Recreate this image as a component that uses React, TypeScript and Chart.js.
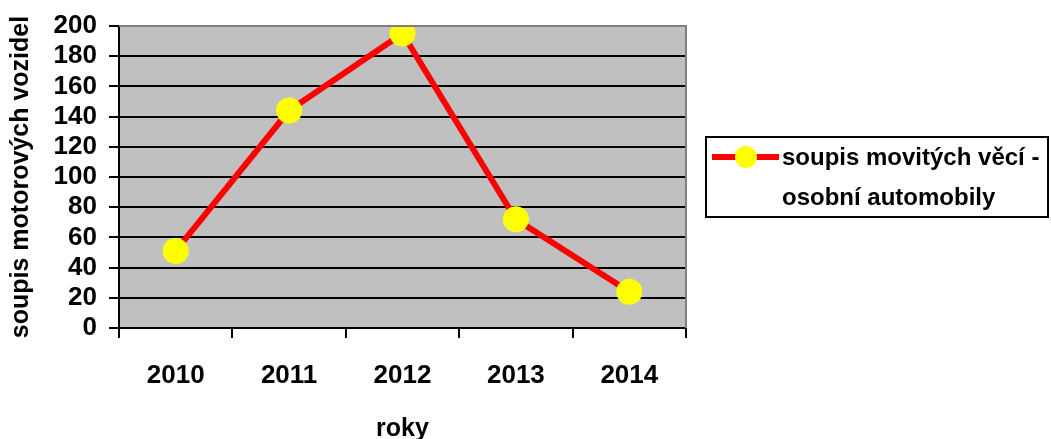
import React, { useEffect, useRef } from "react";
import { Chart, registerables } from "chart.js";

Chart.register(...registerables);

const categories: string[] = ["2010", "2011", "2012", "2013", "2014"];
const seriesValues: number[] = [51, 144, 195, 72, 24];
const seriesLabel: string[] = ["soupis movitých věcí -", "osobní automobily"];
const yTitle = "soupis motorových vozidel";
const xTitle = "roky";
const yMin = 0;
const yMax = 200;
const yStep = 20;

const FONT = "'Liberation Sans', Arial, sans-serif";

const plotDecor = {
  id: "plotDecor",
  beforeDraw(chart: any) {
    const { ctx, chartArea } = chart;
    ctx.save();
    ctx.fillStyle = "#ffffff";
    ctx.fillRect(0, 0, chart.width, chart.height);
    ctx.fillStyle = "#C0C0C0";
    ctx.fillRect(chartArea.left, chartArea.top, chartArea.right - chartArea.left, chartArea.bottom - chartArea.top);
    ctx.restore();
  },
  afterDraw(chart: any) {
    const { ctx, chartArea } = chart;
    ctx.save();
    ctx.strokeStyle = "#808080";
    ctx.lineWidth = 2;
    ctx.beginPath();
    ctx.moveTo(chartArea.left, chartArea.top);
    ctx.lineTo(chartArea.right, chartArea.top);
    ctx.lineTo(chartArea.right, chartArea.bottom);
    ctx.stroke();

    const bx = 706, by = 137, bw = 342, bh = 80;
    ctx.strokeStyle = "#000000";
    ctx.lineWidth = 2;
    ctx.strokeRect(bx, by, bw, bh);
    const ly = 157;
    ctx.strokeStyle = "#FF0000";
    ctx.lineWidth = 6;
    ctx.beginPath();
    ctx.moveTo(712, ly);
    ctx.lineTo(779, ly);
    ctx.stroke();
    ctx.fillStyle = "#FFFF00";
    ctx.beginPath();
    ctx.arc(746, ly, 11, 0, Math.PI * 2);
    ctx.fill();
    ctx.fillStyle = "#000000";
    ctx.font = `bold 24px ${FONT}`;
    ctx.textBaseline = "middle";
    ctx.textAlign = "left";
    ctx.fillText(seriesLabel[0], 782, ly + 1);
    ctx.fillText(seriesLabel[1], 782, 198);
    ctx.restore();
  },
};

export default function App() {
  const ref = useRef<HTMLCanvasElement | null>(null);

  useEffect(() => {
    if (!ref.current) return;
    const chart = new Chart(ref.current, {
      type: "line",
      data: {
        labels: categories,
        datasets: [
          {
            label: seriesLabel.join(" "),
            data: seriesValues,
            borderColor: "#FF0000",
            borderWidth: 6,
            backgroundColor: "#FFFF00",
            pointBackgroundColor: "#FFFF00",
            pointBorderWidth: 0,
            pointBorderColor: "#FFFF00",
            pointRadius: 13,
            pointHoverRadius: 13,
            tension: 0,
            fill: false,
          },
        ],
      },
      options: {
        animation: false,
        responsive: false,
        maintainAspectRatio: false,
        layout: { padding: { left: 0, right: 365, top: 26, bottom: 0 } },
        plugins: {
          legend: { display: false },
          tooltip: { enabled: false },
        },
        scales: {
          x: {
            type: "category",
            offset: true,
            grid: {
              offset: true,
              drawOnChartArea: false,
              drawTicks: true,
              tickLength: 10,
              color: "#000000",
              lineWidth: 2,
            },
            border: { display: true, color: "#000000", width: 2 },
            ticks: {
              color: "#000000",
              padding: 22,
              font: { family: FONT, size: 26, weight: "bold" },
              maxRotation: 0,
              autoSkip: false,
            },
            title: {
              display: true,
              text: xTitle,
              color: "#000000",
              font: { family: FONT, size: 25, weight: "bold", lineHeight: 0.8 },
              padding: { top: 0, bottom: 0 },
            },
            afterFit(scale: any) {
              scale.height = 111;
            },
          },
          y: {
            min: yMin,
            max: yMax,
            ticks: {
              stepSize: yStep,
              color: "#000000",
              padding: 12,
              autoSkip: false,
              font: { family: FONT, size: 26, weight: "bold", lineHeight: 1 },
            },
            grid: {
              color: (c: any) => (c.tick && c.tick.value === yMax ? "#808080" : "#000000"),
              lineWidth: 2,
              tickLength: 10,
              drawTicks: true,
              tickColor: "#000000",
            },
            border: { display: true, color: "#000000", width: 2 },
            title: {
              display: true,
              text: yTitle,
              color: "#000000",
              font: { family: FONT, size: 25, weight: "bold", lineHeight: 1.2 },
              padding: { top: 6, bottom: 0 },
            },
            afterFit(scale: any) {
              scale.width = 119;
            },
          },
        },
      },
      plugins: [plotDecor],
    } as any);
    return () => chart.destroy();
  }, []);

  return (
    <div style={{ position: "absolute", left: 0, top: 0, width: 1051, height: 439 }}>
      <canvas ref={ref} width={1051} height={439} style={{ width: 1051, height: 439, display: "block" }} />
    </div>
  );
}
